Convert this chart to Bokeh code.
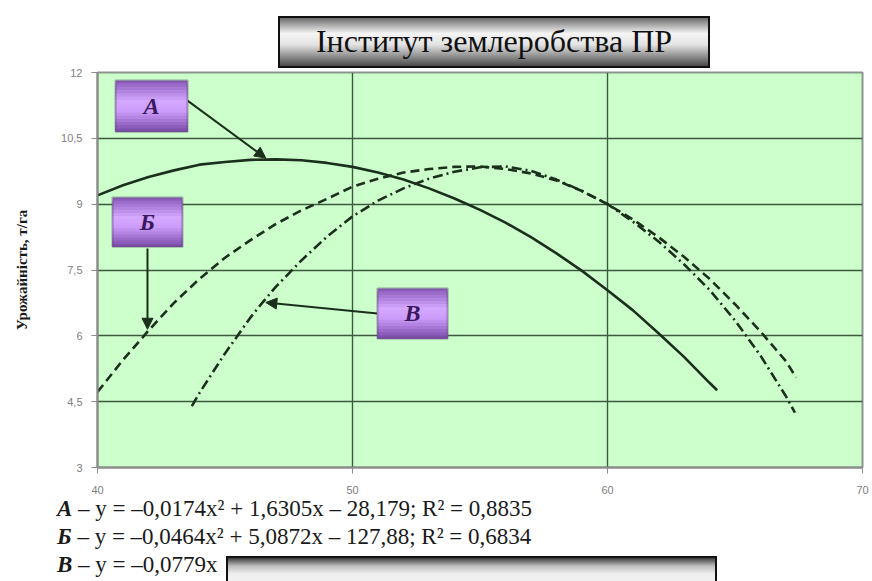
from bokeh.plotting import figure
from bokeh.layouts import column
from bokeh.models import BoxAnnotation, Label, Arrow, NormalHead, FixedTicker, Range1d, Div
from bokeh.embed import file_html
from bokeh.resources import INLINE

# ---- data ----
x_a = [40, 41, 42, 43, 44, 45, 46, 47, 48, 49, 50, 51, 52, 53, 54, 55, 56, 57, 58, 59, 60, 61, 62, 63, 64, 64.3]
y_a = [9.2, 9.43, 9.62, 9.77, 9.9, 9.96, 10.01, 10.02, 10.0, 9.94, 9.85, 9.72, 9.56, 9.36, 9.13, 8.87, 8.58, 8.25, 7.88, 7.48, 7.04, 6.58, 6.06, 5.52, 4.93, 4.76]

x_b = [40, 41, 42, 43, 44, 45, 46, 47, 48, 49, 50, 51, 52, 53, 54, 55, 56, 57, 58, 59, 60, 61, 62, 63, 64, 65, 66, 67, 67.4]
y_b = [4.72, 5.45, 6.12, 6.75, 7.3, 7.78, 8.18, 8.55, 8.86, 9.12, 9.4, 9.58, 9.72, 9.8, 9.85, 9.86, 9.8, 9.7, 9.54, 9.3, 9.0, 8.65, 8.25, 7.8, 7.3, 6.72, 6.1, 5.42, 5.05]

x_v = [43.7, 44, 45, 46, 46.5, 47, 48, 49, 50, 51, 52, 53, 54, 55, 56, 57, 58, 59, 60, 61, 62, 63, 64, 65, 66, 67, 67.35]
y_v = [4.4, 4.7, 5.6, 6.42, 6.78, 7.12, 7.72, 8.26, 8.72, 9.08, 9.36, 9.58, 9.74, 9.84, 9.86, 9.76, 9.56, 9.3, 9.0, 8.6, 8.15, 7.63, 7.05, 6.35, 5.55, 4.62, 4.25]

x_ticks = [40, 50, 60, 70]
y_ticks = [3, 4.5, 6, 7.5, 9, 10.5, 12]
y_tick_labels = ["3", "4,5", "6", "7,5", "9", "10,5", "12"]

title_text = "Інститут землеробства ПР"
y_label = "Урожайність, т/га"
series_letters = ["А", "Б", "В"]
equations = [
    " – y = –0,0174x² + 1,6305x – 28,179; R² = 0,8835",
    " – y = –0,0464x² + 5,0872x – 127,88; R² = 0,6834",
    " – y = –0,0779x",
]

LINE = "#1c2f1c"
W = 872

# ---------- title box (HTML) ----------
top_html = (
    '<div style="position:relative;width:872px;height:68px;">'
    '<div style="position:absolute;left:278px;top:16px;width:432px;height:52px;box-sizing:border-box;'
    'border:2px solid #111;background:linear-gradient(to bottom,#6c6c6c 0%,#f4f4f4 32%,#e4e4e4 55%,#4a4a4a 100%);'
    'display:flex;align-items:center;justify-content:center;font-family:\'Liberation Serif\',serif;'
    'font-size:32px;color:#111;white-space:nowrap;">' + title_text + '</div></div>'
)
top_div = Div(text=top_html, width=W, height=68, margin=(0, 0, 0, 0))

# ---------- main chart ----------
p = figure(width=W, height=428, x_range=Range1d(40, 70), y_range=Range1d(3, 12),
           output_backend="svg", toolbar_location=None,
           min_border_left=97, min_border_right=10, min_border_top=4, min_border_bottom=29)
p.background_fill_color = "#ccffcc"
p.border_fill_color = "white"
p.outline_line_color = "#8a968a"
p.outline_line_width = 2

p.xaxis.ticker = FixedTicker(ticks=x_ticks)
p.yaxis.ticker = FixedTicker(ticks=y_ticks)
p.yaxis.major_label_overrides = {t: l for t, l in zip(y_ticks, y_tick_labels)}
p.grid.grid_line_color = "#3e5a3e"
p.grid.grid_line_width = 1.4
p.axis.axis_line_color = "#8c8c8c"
p.axis.axis_line_width = 2
p.axis.major_tick_line_color = "#8c8c8c"
p.axis.major_tick_out = 6
p.axis.major_tick_in = 0
p.axis.minor_tick_line_color = None
p.axis.major_label_text_font = "Liberation Sans"
p.axis.major_label_text_font_size = "11px"
p.axis.major_label_text_color = "#808080"
p.yaxis.major_label_standoff = 9
p.xaxis.major_label_standoff = 12
p.yaxis.axis_label = y_label
p.yaxis.axis_label_text_font = "Liberation Serif"
p.yaxis.axis_label_text_font_style = "bold"
p.yaxis.axis_label_text_font_size = "15px"
p.yaxis.axis_label_text_color = "#1a1a1a"
p.yaxis.axis_label_standoff = 28

p.line(x_a, y_a, line_color=LINE, line_width=2.6)
p.line(x_b, y_b, line_color=LINE, line_width=2.6, line_dash="9 5")
p.line(x_v, y_v, line_color=LINE, line_width=2.6, line_dash="10 4 2 4")


def lerp_color(stops, f):
    for (f0, c0), (f1, c1) in zip(stops[:-1], stops[1:]):
        if f0 <= f <= f1:
            t = 0 if f1 == f0 else (f - f0) / (f1 - f0)
            a = [int(c0[i:i + 2], 16) for i in (1, 3, 5)]
            b = [int(c1[i:i + 2], 16) for i in (1, 3, 5)]
            return "#" + "".join("%02x" % round(a[k] + (b[k] - a[k]) * t) for k in range(3))
    return stops[-1][1]


def gradient_box(left, right, top, bottom, stops, n, border, bw):
    # strips drawn top to bottom, each reaching the box bottom, so no seams show
    for i in range(n):
        t0 = top + (bottom - top) * i / n
        c = lerp_color(stops, (i + 0.5) / n)
        p.add_layout(BoxAnnotation(left=left, right=right, top=t0, bottom=bottom,
                                   fill_color=c, fill_alpha=1, line_alpha=0, level="overlay"))
    p.add_layout(BoxAnnotation(left=left, right=right, top=top, bottom=bottom,
                               fill_alpha=0, line_color=border, line_width=bw, level="overlay"))


purple = [(0, "#8858b8"), (0.4, "#d4a8ff"), (0.6, "#cc9cfa"), (1, "#7a4aa8")]
boxes = [(40.71, 43.53, 11.82, 10.65), (40.59, 43.33, 9.15, 8.03), (50.98, 53.73, 7.08, 5.94)]
for letter, (l, r, t, b) in zip(series_letters, boxes):
    gradient_box(l, r, t, b, purple, 16, "#4e405e", 2.5)
    p.add_layout(Label(x=(l + r) / 2, y=(t + b) / 2, text=letter, text_font="Liberation Serif",
                       text_font_style="bold italic", text_font_size="24px", text_color="#3a1a5c",
                       text_align="center", text_baseline="middle", level="overlay"))

arrows = [(43.53, 11.36, 46.6, 10.05), (41.96, 7.99, 41.96, 6.15), (50.98, 6.51, 46.6, 6.76)]
for xs, ys, xe, ye in arrows:
    p.add_layout(Arrow(end=NormalHead(size=11, fill_color=LINE, line_color=LINE),
                       x_start=xs, y_start=ys, x_end=xe, y_end=ye, line_color=LINE, line_width=2))

# ---------- equations and bottom box (HTML) ----------
eq_tops = [1, 29, 57]
parts = ['<div style="position:relative;width:872px;height:85px;overflow:hidden;'
         'font-family:\'Liberation Serif\',serif;font-size:23px;color:#1a1a1a;">']
for letter, eq, top in zip(series_letters, equations, eq_tops):
    parts.append('<div style="position:absolute;left:57px;top:%dpx;line-height:24px;white-space:nowrap;">'
                 '<b><i>%s</i></b>%s</div>' % (top, letter, eq))
parts.append('<div style="position:absolute;left:226px;top:60px;width:491px;height:40px;box-sizing:border-box;'
             'border:2px solid #111;background:linear-gradient(to bottom,#3c3c3c 0%,#bdbdbd 22%,#efefef 45%,#f4f4f4 100%);"></div>')
parts.append('</div>')
bottom_div = Div(text="".join(parts), width=W, height=85, margin=(0, 0, 0, 0))

layout = column(top_div, p, bottom_div, spacing=0)
open("out.html", "w").write(file_html(layout, INLINE))
